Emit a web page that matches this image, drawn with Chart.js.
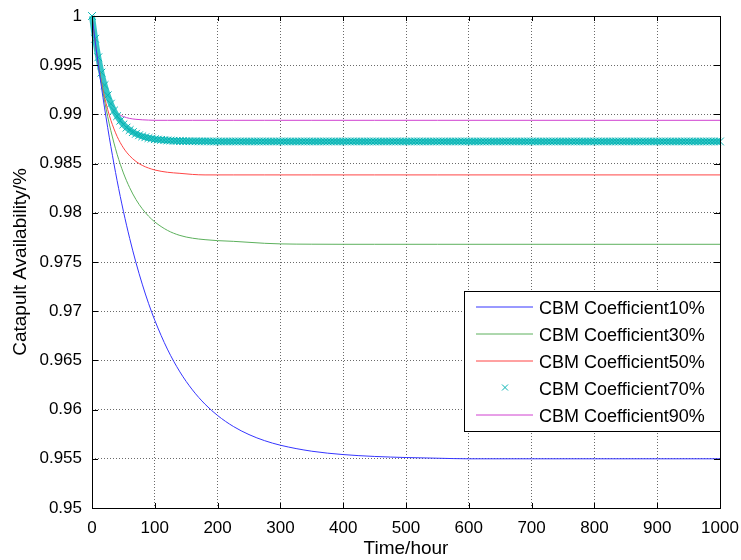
<!DOCTYPE html>
<html>
<head>
<meta charset="utf-8">
<script src="https://cdn.jsdelivr.net/npm/chart.js@4.4.1/dist/chart.umd.min.js"></script>
<style>
  html, body { margin: 0; padding: 0; background: #fff; }
</style>
</head>
<body>
<canvas id="plot-data" width="741" height="560"></canvas>
<script>
// time axis for the solid curves (hours)
const lineTime = [0, 5, 10, 15, 20, 25, 30, 40, 50, 60, 70, 80, 90, 100, 120, 140, 160, 180, 200,
    225, 250, 275, 300, 350, 400, 450, 500, 550, 600, 700, 800, 900, 1000];

const cbm10 = [1.0000, 0.99746, 0.99506, 0.99280, 0.99066, 0.98865, 0.98675, 0.98326, 0.98016, 0.97740,
    0.97494, 0.97275, 0.97080, 0.96907, 0.96615, 0.96383, 0.96200, 0.96055, 0.95940, 0.95829,
    0.95746, 0.95684, 0.95638, 0.95577, 0.95543, 0.95524, 0.95513, 0.95506, 0.95500, 0.95500,
    0.95500, 0.95500, 0.95500];

const cbm30 = [1.0000, 0.99745, 0.99519, 0.99317, 0.99137, 0.98977, 0.98835, 0.98595, 0.98405, 0.98255,
    0.98135, 0.98041, 0.97966, 0.97907, 0.97822, 0.97770, 0.97742, 0.97727, 0.97717, 0.97710,
    0.97700, 0.97690, 0.97684, 0.97681, 0.97680, 0.97680, 0.97680, 0.97680, 0.97680, 0.97680,
    0.97680, 0.97680, 0.97680];

const cbm50 = [1.0000, 0.99737, 0.99517, 0.99332, 0.99178, 0.99049, 0.98941, 0.98776, 0.98660, 0.98579,
    0.98522, 0.98482, 0.98455, 0.98435, 0.98412, 0.98401, 0.98390, 0.98385, 0.98385, 0.98385,
    0.98385, 0.98385, 0.98385, 0.98385, 0.98385, 0.98385, 0.98385, 0.98385, 0.98385, 0.98385,
    0.98385, 0.98385, 0.98385];

const cbm90 = [1.0000, 0.99700, 0.99484, 0.99330, 0.99219, 0.99140, 0.99083, 0.99014, 0.98978, 0.98959,
    0.98950, 0.98945, 0.98942, 0.98940, 0.98940, 0.98940, 0.98940, 0.98940, 0.98940, 0.98940,
    0.98940, 0.98940, 0.98940, 0.98940, 0.98940, 0.98940, 0.98940, 0.98940, 0.98940, 0.98940,
    0.98940, 0.98940, 0.98940];

// the 70% series is drawn with markers, sampled every 5 hours
const markTime = [
    0, 5, 10, 15, 20, 25, 30, 35, 40, 45, 50, 55, 60, 65, 70, 75, 80, 85, 90, 95,
    100, 105, 110, 115, 120, 125, 130, 135, 140, 145, 150, 155, 160, 165, 170, 175, 180, 185, 190, 195,
    200, 205, 210, 215, 220, 225, 230, 235, 240, 245, 250, 255, 260, 265, 270, 275, 280, 285, 290, 295,
    300, 305, 310, 315, 320, 325, 330, 335, 340, 345, 350, 355, 360, 365, 370, 375, 380, 385, 390, 395,
    400, 405, 410, 415, 420, 425, 430, 435, 440, 445, 450, 455, 460, 465, 470, 475, 480, 485, 490, 495,
    500, 505, 510, 515, 520, 525, 530, 535, 540, 545, 550, 555, 560, 565, 570, 575, 580, 585, 590, 595,
    600, 605, 610, 615, 620, 625, 630, 635, 640, 645, 650, 655, 660, 665, 670, 675, 680, 685, 690, 695,
    700, 705, 710, 715, 720, 725, 730, 735, 740, 745, 750, 755, 760, 765, 770, 775, 780, 785, 790, 795,
    800, 805, 810, 815, 820, 825, 830, 835, 840, 845, 850, 855, 860, 865, 870, 875, 880, 885, 890, 895,
    900, 905, 910, 915, 920, 925, 930, 935, 940, 945, 950, 955, 960, 965, 970, 975, 980, 985, 990, 995,
    1000];

const cbm70 = [
    1.00000, 0.99769, 0.99580, 0.99425, 0.99298, 0.99194, 0.99109, 0.99039, 0.98982, 0.98936,
    0.98898, 0.98866, 0.98841, 0.98820, 0.98803, 0.98788, 0.98777, 0.98768, 0.98760, 0.98754,
    0.98748, 0.98744, 0.98741, 0.98738, 0.98735, 0.98734, 0.98732, 0.98731, 0.98730, 0.98729,
    0.98728, 0.98728, 0.98727, 0.98727, 0.98726, 0.98726, 0.98726, 0.98726, 0.98725, 0.98725,
    0.98725, 0.98725, 0.98725, 0.98725, 0.98725, 0.98725, 0.98725, 0.98725, 0.98725, 0.98725,
    0.98725, 0.98725, 0.98725, 0.98725, 0.98725, 0.98725, 0.98725, 0.98725, 0.98725, 0.98725,
    0.98725, 0.98725, 0.98725, 0.98725, 0.98725, 0.98725, 0.98725, 0.98725, 0.98725, 0.98725,
    0.98725, 0.98725, 0.98725, 0.98725, 0.98725, 0.98725, 0.98725, 0.98725, 0.98725, 0.98725,
    0.98725, 0.98725, 0.98725, 0.98725, 0.98725, 0.98725, 0.98725, 0.98725, 0.98725, 0.98725,
    0.98725, 0.98725, 0.98725, 0.98725, 0.98725, 0.98725, 0.98725, 0.98725, 0.98725, 0.98725,
    0.98725, 0.98725, 0.98725, 0.98725, 0.98725, 0.98725, 0.98725, 0.98725, 0.98725, 0.98725,
    0.98725, 0.98725, 0.98725, 0.98725, 0.98725, 0.98725, 0.98725, 0.98725, 0.98725, 0.98725,
    0.98725, 0.98725, 0.98725, 0.98725, 0.98725, 0.98725, 0.98725, 0.98725, 0.98725, 0.98725,
    0.98725, 0.98725, 0.98725, 0.98725, 0.98725, 0.98725, 0.98725, 0.98725, 0.98725, 0.98725,
    0.98725, 0.98725, 0.98725, 0.98725, 0.98725, 0.98725, 0.98725, 0.98725, 0.98725, 0.98725,
    0.98725, 0.98725, 0.98725, 0.98725, 0.98725, 0.98725, 0.98725, 0.98725, 0.98725, 0.98725,
    0.98725, 0.98725, 0.98725, 0.98725, 0.98725, 0.98725, 0.98725, 0.98725, 0.98725, 0.98725,
    0.98725, 0.98725, 0.98725, 0.98725, 0.98725, 0.98725, 0.98725, 0.98725, 0.98725, 0.98725,
    0.98725, 0.98725, 0.98725, 0.98725, 0.98725, 0.98725, 0.98725, 0.98725, 0.98725, 0.98725,
    0.98725, 0.98725, 0.98725, 0.98725, 0.98725, 0.98725, 0.98725, 0.98725, 0.98725, 0.98725,
    0.98725];

const seriesNames = ['CBM Coefficient10%', 'CBM Coefficient30%', 'CBM Coefficient50%',
    'CBM Coefficient70%', 'CBM Coefficient90%'];

const xTicks = [0, 100, 200, 300, 400, 500, 600, 700, 800, 900, 1000];
const yTicks = [0.95, 0.955, 0.96, 0.965, 0.97, 0.975, 0.98, 0.985, 0.99, 0.995, 1];

function pairs(xs, ys) {
    return xs.map((t, i) => ({x: t, y: ys[i]}));
}

const FONT = "'Liberation Sans', Arial, sans-serif";

// matlab style box round the axes with inward ticks
const axesBox = {
    id: 'axesBox',
    afterDatasetsDraw(chart) {
        const {ctx, chartArea: a, scales: {x, y}} = chart;
        ctx.save();
        ctx.strokeStyle = '#000';
        ctx.lineWidth = 1;
        ctx.beginPath();
        xTicks.forEach(v => {
            const px = Math.round(x.getPixelForValue(v)) + 0.5;
            ctx.moveTo(px, a.bottom); ctx.lineTo(px, a.bottom - 5);
            ctx.moveTo(px, a.top); ctx.lineTo(px, a.top + 5);
        });
        yTicks.forEach(v => {
            const py = Math.round(y.getPixelForValue(v)) + 0.5;
            ctx.moveTo(a.left, py); ctx.lineTo(a.left + 6, py);
            ctx.moveTo(a.right, py); ctx.lineTo(a.right - 6, py);
        });
        ctx.stroke();
        ctx.strokeRect(Math.round(a.left) + 0.5, Math.round(a.top) + 0.5,
            Math.round(a.right - a.left), Math.round(a.bottom - a.top));
        ctx.restore();
    }
};

// legend box inside the plot, lower right
const boxLegend = {
    id: 'boxLegend',
    afterDraw(chart) {
        const {ctx, chartArea: a} = chart;
        const w = 256, h = 140;
        const left = Math.round(a.right) - w, top = 291;
        ctx.save();
        ctx.fillStyle = '#fff';
        ctx.fillRect(left, top, w, h);
        ctx.strokeStyle = '#000';
        ctx.lineWidth = 1;
        ctx.strokeRect(left + 0.5, top + 0.5, w, h);
        ctx.font = '18px ' + FONT;
        ctx.textBaseline = 'middle';
        ctx.fillStyle = '#000';
        chart.data.datasets.forEach((ds, i) => {
            const cy = top + 18 + i * 27;
            const ly = cy - 2.5;
            ctx.lineWidth = 1;
            ctx.beginPath();
            if (ds.pointStyle === 'crossRot') {
                const cx = left + 41, r = 3;
                ctx.strokeStyle = ds.pointBorderColor;
                ctx.moveTo(cx - r, ly - r); ctx.lineTo(cx + r, ly + r);
                ctx.moveTo(cx - r, ly + r); ctx.lineTo(cx + r, ly - r);
            } else {
                ctx.strokeStyle = ds.borderColor;
                ctx.moveTo(left + 12, ly + 0.5);
                ctx.lineTo(left + 69, ly + 0.5);
            }
            ctx.stroke();
            ctx.fillText(ds.label, left + 75, cy);
        });
        ctx.restore();
    }
};

var ctx = document.getElementById('plot-data').getContext('2d');
var graph_data = new Chart(ctx, {
    type: 'line',
    data: {
        datasets: [{
            label: seriesNames[0],
            data: pairs(lineTime, cbm10),
            borderColor: '#3535ff',
            borderWidth: 1,
            pointRadius: 0,
            cubicInterpolationMode: 'monotone'
        }, {
            label: seriesNames[1],
            data: pairs(lineTime, cbm30),
            borderColor: '#5cb05c',
            borderWidth: 1,
            pointRadius: 0,
            cubicInterpolationMode: 'monotone'
        }, {
            label: seriesNames[2],
            data: pairs(lineTime, cbm50),
            borderColor: '#ff4545',
            borderWidth: 1,
            pointRadius: 0,
            cubicInterpolationMode: 'monotone'
        }, {
            // dense markers in the original merge into a solid band
            label: seriesNames[3],
            data: pairs(markTime, cbm70),
            borderColor: '#35c6c6',
            borderWidth: 6,
            pointBorderColor: '#08b4b4',
            pointBackgroundColor: '#08b4b4',
            pointStyle: 'crossRot',
            pointRadius: 5.5,
            pointBorderWidth: 1,
            cubicInterpolationMode: 'monotone',
            clip: false
        }, {
            label: seriesNames[4],
            data: pairs(lineTime, cbm90),
            borderColor: '#d040d0',
            borderWidth: 1,
            pointRadius: 0,
            cubicInterpolationMode: 'monotone'
        }]
    },
    options: {
        responsive: false,
        animation: false,
        devicePixelRatio: 1,
        layout: {
            padding: {top: 16, right: 21, left: 0, bottom: 0}
        },
        plugins: {
            legend: {display: false},
            tooltip: {enabled: false}
        },
        scales: {
            x: {
                type: 'linear',
                min: 0,
                max: 1000,
                afterFit(s) {
                    s.height = 52;
                    s.paddingLeft = 0;
                    s.paddingRight = 0;
                },
                ticks: {
                    stepSize: 100,
                    maxRotation: 0,
                    padding: 10,
                    color: '#000',
                    font: {family: FONT, size: 17},
                    callback: function(value) {
                        return String(value);
                    }
                },
                grid: {color: '#6a6a6a', drawTicks: false, tickLength: 0},
                border: {display: false, dash: [1, 2]},
                title: {
                    display: true,
                    text: 'Time/hour',
                    color: '#000',
                    font: {family: FONT, size: 19},
                    padding: {top: 0, bottom: 0}
                }
            },
            y: {
                min: 0.95,
                max: 1,
                afterFit(s) {
                    s.width = 92;
                    s.paddingTop = 0;
                    s.paddingBottom = 0;
                },
                ticks: {
                    stepSize: 0.005,
                    padding: 10,
                    color: '#000',
                    font: {family: FONT, size: 17},
                    callback: function(value) {
                        return parseFloat(value.toFixed(3)).toString();
                    }
                },
                grid: {color: '#6a6a6a', drawTicks: false, tickLength: 0},
                border: {display: false, dash: [1, 2]},
                title: {
                    display: true,
                    text: 'Catapult Availability/%',
                    color: '#000',
                    font: {family: FONT, size: 19},
                    padding: {top: 9, bottom: 0}
                }
            }
        }
    },
    plugins: [axesBox, boxLegend]
});
</script>
</body>
</html>
